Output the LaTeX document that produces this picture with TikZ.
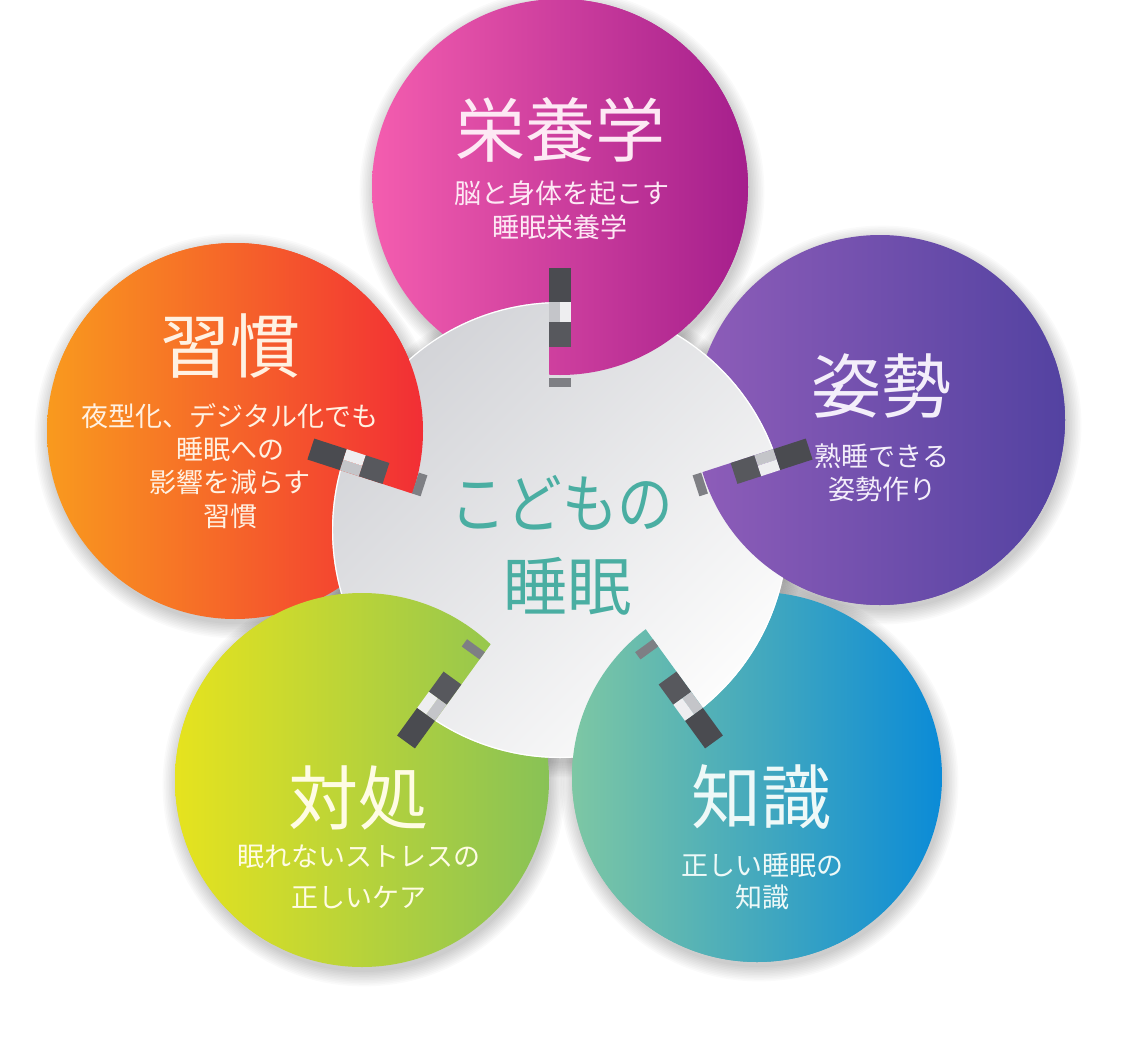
\documentclass[tikz,border=0pt]{standalone}
\usepackage{fontspec}
\newfontfamily\jp{Noto Sans CJK JP}
\definecolor{topL}{HTML}{F45DAF}
\definecolor{topR}{HTML}{A51F8C}
\definecolor{rgtL}{HTML}{8E5DB9}
\definecolor{rgtR}{HTML}{5342A1}
\definecolor{brL}{HTML}{7DC7A4}
\definecolor{brR}{HTML}{0B8BD7}
\definecolor{blL}{HTML}{E6E31E}
\definecolor{blR}{HTML}{88C256}
\definecolor{lfL}{HTML}{F99A1E}
\definecolor{lfR}{HTML}{F22E35}
\definecolor{ctrA}{HTML}{D3D4D8}
\definecolor{ctrB}{HTML}{FCFCFC}
\definecolor{ctrTeal}{HTML}{4AAEA2}
\definecolor{tabDark}{HTML}{4A4B50}
\definecolor{tabMid}{HTML}{57585D}
\definecolor{tabThin}{HTML}{7E7F84}
\definecolor{gapA}{HTML}{C4C5C9}
\definecolor{gapB}{HTML}{EEEEF0}
\definecolor{txTop}{HTML}{FDE9F4}
\definecolor{txRgt}{HTML}{F3EEFA}
\definecolor{txBr}{HTML}{EEF9F8}
\definecolor{txBl}{HTML}{FFFCE4}
\definecolor{txLf}{HTML}{FFF1E2}
\tikzset{
  ttl/.style={inner sep=0pt, font=\jp\fontsize{70}{70}\selectfont},
  subt/.style={inner sep=0pt, font=\jp\fontsize{27}{27}\selectfont},
  ctrtext/.style={inner sep=0pt, text=ctrTeal, font=\jp\fontsize{64}{64}\selectfont},
  tabdark/.style={fill=tabDark},
  tabmid/.style={fill=tabMid},
  tabthin/.style={fill=tabThin},
}
\begin{document}
\begin{tikzpicture}[x=1pt,y=-1pt]
\useasboundingbox (0,0) rectangle (1125,1063);
\fill[white] (0,0) rectangle (1125,1063);
% soft shadows
\foreach \cx/\cy/\r in {560/187/188, 880/420/185, 757/777/185, 362/780/187, 235/431/188, 560/530/228}{
  \foreach \k in {0,...,9}{
    \fill[black, opacity=0.02] (\cx+2,\cy+5) circle ({\r+1.6*\k});
  }
}
% petals
\foreach \cx/\cy/\r/\cL/\cR in {560/187/188/topL/topR, 880/420/185/rgtL/rgtR, 757/777/185/brL/brR, 362/780/187/blL/blR, 235/431/188/lfL/lfR}{
  \shade[left color=\cL, right color=\cR] (\cx,\cy) circle (\r);
}
% centre disc
\shade[left color=ctrA, right color=ctrB, shading angle=45] (560,530) circle (228);
\draw[white, line width=1.2pt] (560,530) circle (227.4);
% interlocking fronts and tabs
\foreach \cx/\cy/\r/\cL/\cR/\ang in {560/187/188/topL/topR/90, 880/420/185/rgtL/rgtR/18, 757/777/185/brL/brR/-54, 362/780/187/blL/blR/-126, 235/431/188/lfL/lfR/162}{
  \begin{scope}
    \clip[shift={(560,530)}, rotate=\ang] (0,-11) -- (700,-11) -- (700,700) -- (0,700) -- cycle;
    \shade[left color=\cL, right color=\cR] (\cx,\cy) circle (\r);
  \end{scope}
  \begin{scope}[shift={(560,530)}, rotate=\ang]
    \fill[tabthin] (143,-11) -- (152,-11) -- (152,11) -- (143,11) -- cycle;
    \fill[tabmid] (183,-11) -- (208,-11) -- (208,11) -- (183,11) -- cycle;
    \fill[gapA] (208,-11) -- (228,-11) -- (228,0) -- (208,0) -- cycle;
    \fill[gapB] (208,0) -- (228,0) -- (228,11) -- (208,11) -- cycle;
    \fill[tabdark] (228,-11) -- (262,-11) -- (262,11) -- (228,11) -- cycle;
  \end{scope}
}
% texts
\node[ttl, text=txTop] (tTitle) at (560,130) {栄養学};
\node[subt, text=txTop] (tSub1) at (562,193) {脳と身体を起こす};
\node[subt, text=txTop] (tSub2) at (560,227) {睡眠栄養学};

\node[ttl, text=txRgt] (rTitle) at (881,386) {姿勢};
\node[subt, text=txRgt] (rSub1) at (882,456) {熟睡できる};
\node[subt, text=txRgt] (rSub2) at (882,489) {姿勢作り};

\node[ttl, text=txBr] (bTitle) at (761,797) {知識};
\node[subt, text=txBr] (bSub1) at (762,865) {正しい睡眠の};
\node[subt, text=txBr] (bSub2) at (762,897) {知識};

\node[ttl, text=txBl] (lbTitle) at (358,798) {対処};
\node[subt, text=txBl] (lbSub1) at (359,857) {眠れないストレスの};
\node[subt, text=txBl] (lbSub2) at (359,897) {正しいケア};

\node[ttl, text=txLf] (lTitle) at (230,346) {習慣};
\node[subt, text=txLf] (lSub1) at (230,416) {夜型化、デジタル化でも};
\node[subt, text=txLf] (lSub2) at (230,449) {睡眠への};
\node[subt, text=txLf] (lSub3) at (230,482) {影響を減らす};
\node[subt, text=txLf] (lSub4) at (230,516) {習慣};

\node[ctrtext] (cLine1) at (562,503) {\scalebox{0.87}[1]{こどもの}};
\node[ctrtext] (cLine2) at (567,586) {睡眠};
\end{tikzpicture}
\end{document}
